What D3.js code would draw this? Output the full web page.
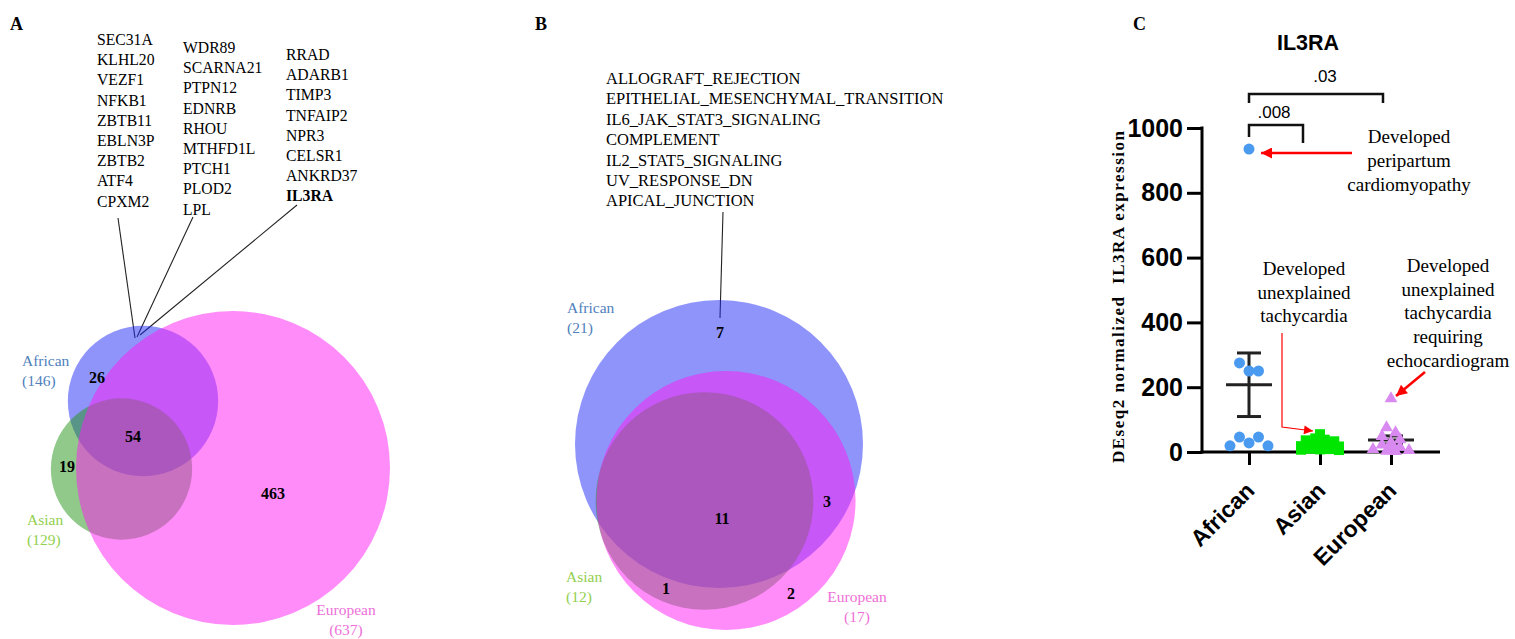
<!DOCTYPE html>
<html><head><meta charset="utf-8">
<script src="https://cdn.jsdelivr.net/npm/d3@7"></script>
<style>body{margin:0;background:#fff}svg{display:block}</style>
</head><body>
<svg id="c" width="1515" height="639"></svg>
<script>
// ---------------- DATA ----------------
const geneCol1 = ["SEC31A","KLHL20","VEZF1","NFKB1","ZBTB11","EBLN3P","ZBTB2","ATF4","CPXM2"];
const geneCol2 = ["WDR89","SCARNA21","PTPN12","EDNRB","RHOU","MTHFD1L","PTCH1","PLOD2","LPL"];
const geneCol3 = ["RRAD","ADARB1","TIMP3","TNFAIP2","NPR3","CELSR1","ANKRD37","IL3RA"];
const highlightGene = "IL3RA";
const vennSets = ["African","Asian","European"];
const vennASizes = [146,129,637];
const vennACounts = [26,54,19,463];          // African only, all three, Asian only, European only
const pathways = ["ALLOGRAFT_REJECTION","EPITHELIAL_MESENCHYMAL_TRANSITION","IL6_JAK_STAT3_SIGNALING","COMPLEMENT","IL2_STAT5_SIGNALING","UV_RESPONSE_DN","APICAL_JUNCTION"];
const vennBSizes = [21,12,17];
const vennBCounts = [7,11,3,1,2];            // African only, all three, African∩European, Asian∩European, European only
const categories = ["African","Asian","European"];
const africanValues = [935,275,250,250,46,46,28,19,19];
const asianValues = [55,42,38,36,33,24,22,20,18,17,10,9,8,7,6];
const europeanValues = [165,75,60,48,38,30,22,15,12,8,5,3,2];
const yTicks = [0,200,400,600,800,1000];
const pLabels = [".008",".03"];
const chartTitle = "IL3RA";
const yTitle = "DEseq2 normalized  IL3RA expression";
const notePPCM = ["Developed","peripartum","cardiomyopathy"];
const noteTachy = ["Developed","unexplained","tachycardia"];
const noteEcho = ["Developed","unexplained","tachycardia","requiring","echocardiogram"];

// ---------------- DRAW ----------------
const svg = d3.select("#c");
const serif = "'Liberation Serif','Times New Roman',serif";
const sans = "'Liberation Sans',Arial,sans-serif";
const vennFills = ["#1f29f7","#219315","#ff19f3"];
const labelColors = ["#4f81bd","#92d050","#ee6fd8"];

// panel letters
[["A",10],["B",535],["C",1133]].forEach(([t,x]) =>
  svg.append("text").attr("x",x).attr("y",30).attr("font-family",serif)
     .attr("font-weight","bold").attr("font-size",18).text(t));

// ---- Panel A ----
[{g:geneCol1,x:97,y0:45},{g:geneCol2,x:183,y0:53},{g:geneCol3,x:286,y0:60}].forEach(c =>
  c.g.forEach((g,i) => svg.append("text").attr("x",c.x).attr("y",c.y0+i*20.2)
    .attr("font-family",serif).attr("font-size",15.7)
    .attr("font-weight", g===highlightGene ? "bold" : "normal").text(g)));

[[118,218,135,338],[193,217,137,337],[297,205,140,335]].forEach(l =>
  svg.append("line").attr("x1",l[0]).attr("y1",l[1]).attr("x2",l[2]).attr("y2",l[3])
     .attr("stroke","#222").attr("stroke-width",1.1));

const rA = d3.scaleSqrt().domain([0,d3.max(vennASizes)]).range([0,157]);
const centersA = [[143,401],[121.5,469],[233,468]];
vennSets.forEach((s,i) => svg.append("circle").attr("cx",centersA[i][0]).attr("cy",centersA[i][1])
  .attr("r",rA(vennASizes[i])).attr("fill",vennFills[i]).attr("fill-opacity",0.5));

const setLabelA = [{x:22,y:366,a:"start"},{x:27,y:525,a:"start"},{x:346,y:615,a:"middle"}];
vennSets.forEach((s,i) => {
  const t = svg.append("text").attr("font-family",serif).attr("font-size",15.5)
    .attr("fill",labelColors[i]).attr("text-anchor",setLabelA[i].a);
  t.append("tspan").attr("x",setLabelA[i].x).attr("y",setLabelA[i].y).text(s);
  t.append("tspan").attr("x",setLabelA[i].x).attr("y",setLabelA[i].y+19.5).text("("+vennASizes[i]+")");
});
const countPosA = [[97,377],[133,436],[67,466],[273,493]];
vennACounts.forEach((c,i) => svg.append("text").attr("x",countPosA[i][0]).attr("y",countPosA[i][1]+5.5)
  .attr("text-anchor","middle").attr("font-family",serif).attr("font-weight","bold").attr("font-size",16).text(c));

// ---- Panel B ----
pathways.forEach((p,i) => svg.append("text").attr("x",606).attr("y",84+i*20.4)
  .attr("font-family",serif).attr("font-size",16.5).text(p));
svg.append("line").attr("x1",723).attr("y1",212).attr("x2",720).attr("y2",318)
  .attr("stroke","#222").attr("stroke-width",1.1);

const rB = d3.scaleSqrt().domain([0,d3.max(vennBSizes)]).range([0,144]);
const centersB = [[719,444],[704.5,501],[726,500.5]];
vennSets.forEach((s,i) => svg.append("circle").attr("cx",centersB[i][0]).attr("cy",centersB[i][1])
  .attr("r",rB(vennBSizes[i])).attr("fill",vennFills[i]).attr("fill-opacity",0.5));
const setLabelB = [{x:567,y:313,a:"start"},{x:566,y:582,a:"start"},{x:857,y:602,a:"middle"}];
vennSets.forEach((s,i) => {
  const t = svg.append("text").attr("font-family",serif).attr("font-size",15.5)
    .attr("fill",labelColors[i]).attr("text-anchor",setLabelB[i].a);
  t.append("tspan").attr("x",setLabelB[i].x).attr("y",setLabelB[i].y).text(s);
  t.append("tspan").attr("x",setLabelB[i].x).attr("y",setLabelB[i].y+20).text("("+vennBSizes[i]+")");
});
const countPosB = [[720,332],[722,518],[827,501],[666,588],[791,593]];
vennBCounts.forEach((c,i) => svg.append("text").attr("x",countPosB[i][0]).attr("y",countPosB[i][1]+5.5)
  .attr("text-anchor","middle").attr("font-family",serif).attr("font-weight","bold").attr("font-size",16).text(c));

// ---- Panel C ----
const y = d3.scaleLinear().domain([0,1000]).range([452,128]);
const x = d3.scalePoint().domain(categories).range([1249,1391]);

svg.append("text").attr("x",1308).attr("y",50).attr("text-anchor","middle")
  .attr("font-family",sans).attr("font-weight","bold").attr("font-size",21.5).text(chartTitle);

const yAxis = svg.append("g").attr("transform","translate(1202,0)")
  .call(d3.axisLeft(y).tickValues(yTicks).tickSize(15).tickPadding(4).tickFormat(d3.format("d")));
yAxis.select(".domain").remove();
yAxis.selectAll(".tick line").attr("stroke","#000").attr("stroke-width",3);
yAxis.selectAll(".tick text").attr("font-family",sans).attr("font-weight","bold").attr("font-size",25).attr("fill","#000");
svg.append("line").attr("x1",1202).attr("x2",1202).attr("y1",126.5).attr("y2",453.5).attr("stroke","#000").attr("stroke-width",3);

const xAxis = svg.append("g").attr("transform","translate(0,452)")
  .call(d3.axisBottom(x).tickSize(13).tickFormat(""));
xAxis.select(".domain").remove();
xAxis.selectAll(".tick line").attr("stroke","#000").attr("stroke-width",3);
svg.append("line").attr("x1",1200.5).attr("x2",1440).attr("y1",452).attr("y2",452).attr("stroke","#000").attr("stroke-width",3);
categories.forEach(c => svg.append("text")
  .attr("transform",`translate(${x(c)+7},492) rotate(-45)`).attr("text-anchor","end")
  .attr("font-family",sans).attr("font-weight","bold").attr("font-size",23).text(c));

svg.append("text").attr("transform","translate(1124,297) rotate(-90)").attr("text-anchor","middle")
  .attr("font-family",serif).attr("font-weight","bold").attr("font-size",17)
  .style("white-space","pre").attr("textLength",332).attr("lengthAdjust","spacing").text(yTitle);

const groups = [
  {name:"African", vals:africanValues, color:"#4a9af0", shape:"circle", bin:12, max:5, gap:9.5},
  {name:"Asian", vals:asianValues, color:"#00e600", shape:"square", bin:4, max:5, gap:9.5},
  {name:"European", vals:europeanValues, color:"#d98af0", shape:"triangle", bin:6, max:5, gap:9}
];
// error bars (mean ± SEM)
groups.forEach(g => {
  const cx = x(g.name), m = d3.mean(g.vals), se = d3.deviation(g.vals)/Math.sqrt(g.vals.length);
  const e = svg.append("g").attr("stroke","#222").attr("stroke-width",3);
  e.append("line").attr("x1",cx-23).attr("x2",cx+23).attr("y1",y(m)).attr("y2",y(m));
  e.append("line").attr("x1",cx).attr("x2",cx).attr("y1",y(m+se)).attr("y2",y(m-se));
  e.append("line").attr("x1",cx-12).attr("x2",cx+12).attr("y1",y(m+se)).attr("y2",y(m+se));
  e.append("line").attr("x1",cx-12).attr("x2",cx+12).attr("y1",y(m-se)).attr("y2",y(m-se));
});

// row-binned scatter (points with close values share a centred row)
function slotOrder(n) {
  if (n === 1) return [0];
  const s = [];
  if (n % 2) { for (let k=1;k<=(n-1)/2;k++){ s.push(-k,k); if(k===1) s.push(0); } }
  else { for (let k=0.5;k<=n/2;k++) s.push(-k,k); }
  return s;
}
function rows(vals, cx, g) {
  const sorted = vals.slice().sort((a,b) => b-a);
  const out = []; let row = [];
  const flush = () => { const sl = slotOrder(row.length); row.forEach((v,j) => out.push({v, x: cx + sl[j]*g.gap, y: y(v)})); row = []; };
  sorted.forEach(v => {
    if (row.length && (y(v)-y(row[0]) >= g.bin || row.length >= g.max)) flush();
    row.push(v);
  });
  flush();
  return out;
}
groups.forEach(g => {
  const nodes = rows(g.vals, x(g.name), g);
  const sym = g.shape==="circle" ? null : d3.symbol().type(g.shape==="square" ? d3.symbolSquare : d3.symbolTriangle).size(g.shape==="square" ? 100 : 70);
  nodes.forEach(n => {
    if (g.shape==="circle") svg.append("circle").attr("cx",n.x).attr("cy",n.y).attr("r",5.5).attr("fill",g.color);
    else svg.append("path").attr("d",sym()).attr("transform",`translate(${n.x},${n.y})`).attr("fill",g.color);
  });
});

// significance brackets
const br = svg.append("g").attr("fill","none").attr("stroke","#111").attr("stroke-width",2.5);
br.append("path").attr("d",`M${x("African")},103V94H${x("European")-8}V103`);
br.append("path").attr("d",`M${x("African")},137V125H${x("Asian")-17}V143`);
svg.append("text").attr("x",1274).attr("y",118).attr("text-anchor","middle").attr("font-family",sans).attr("font-size",17).text(pLabels[0]);
svg.append("text").attr("x",1325).attr("y",82).attr("text-anchor","middle").attr("font-family",sans).attr("font-size",17).text(pLabels[1]);

// annotations
function note(lines, cx, y0, dy) {
  lines.forEach((l,i) => svg.append("text").attr("x",cx).attr("y",y0+i*dy).attr("text-anchor","middle")
    .attr("font-family",serif).attr("font-size",19).text(l));
}
note(notePPCM,1409,143,24);
note(noteTachy,1304,275,23.5);
note(noteEcho,1448,272,23.7);

const defs = svg.append("defs");
[["ah",13,11],["ahs",11,9]].forEach(([id,w,h]) => defs.append("marker").attr("id",id)
  .attr("viewBox","0 0 10 10").attr("refX",10).attr("refY",5).attr("markerWidth",w).attr("markerHeight",h)
  .attr("markerUnits","userSpaceOnUse").attr("orient","auto")
  .append("path").attr("d","M0,0L10,5L0,10z").attr("fill","#ff0000"));
svg.append("path").attr("d","M1352,153H1261").attr("stroke","#ff0000").attr("stroke-width",2.5).attr("fill","none").attr("marker-end","url(#ah)");
svg.append("path").attr("d","M1282,333V427L1313,431").attr("stroke","#ff0000").attr("stroke-width",1.2).attr("fill","none").attr("marker-end","url(#ahs)");
svg.append("path").attr("d","M1425,372L1396,396").attr("stroke","#ff0000").attr("stroke-width",2.5).attr("fill","none").attr("marker-end","url(#ah)");
</script>
</body></html>
